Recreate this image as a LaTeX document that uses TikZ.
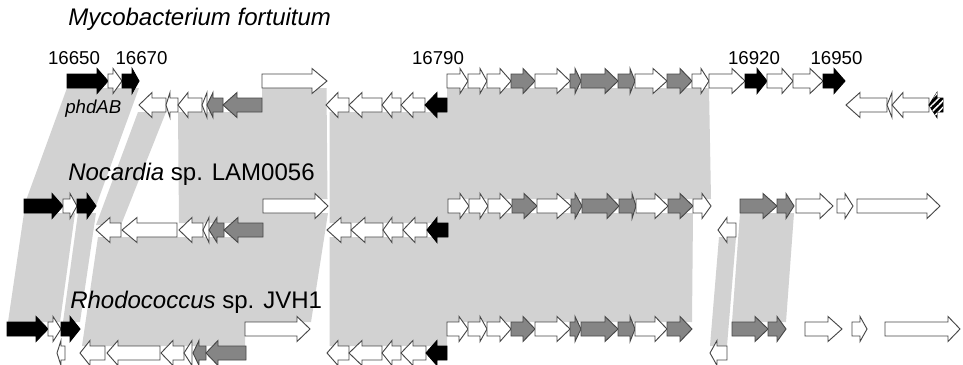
\documentclass[tikz,border=0pt]{standalone}
\usepackage{fontspec}
\setmainfont{Liberation Sans}
\usetikzlibrary{patterns.meta}
\definecolor{band}{HTML}{D2D2D2}
\definecolor{genegray}{HTML}{858585}
\definecolor{outl}{HTML}{474747}
\tikzset{
  bandfill/.style={fill=band, draw=none},
  wg/.style={draw=outl, line width=0.7pt, fill=white},
  gg/.style={draw=outl, line width=0.7pt, fill=genegray},
  bg/.style={draw=black, line width=0.7pt, fill=black},
  hg/.style={draw=black, line width=0.7pt, fill=black,
    postaction={pattern={Lines[angle=45,distance=3.5pt,line width=1.1pt]}, pattern color=white}},
  species/.style={font=\fontsize{18}{20}\selectfont, anchor=base west, inner sep=0pt},
  locus/.style={font=\fontsize{14}{16}\selectfont, anchor=base, inner sep=0pt}
}
% start x, head base x, tip x, centre y, style
\newcommand\gene[5]{\draw[#5] (#1,{#4-7}) -- (#2,{#4-7}) -- (#2,{#4-12.5}) -- (#3,#4) -- (#2,{#4+12.5}) -- (#2,{#4+7}) -- (#1,{#4+7}) -- cycle;}
\begin{document}
\begin{tikzpicture}[x=0.75pt,y=-0.75pt]
\useasboundingbox (0,0) rectangle (963,364);
\fill[white] (0,0) rectangle (963,364);

% ---------- homology bands ----------
% row 1 -> row 2
\fill[bandfill] (67,88) -- (139,88) -- (96,206) -- (24,206) -- cycle;
\fill[bandfill] (138,112) -- (166,112) -- (121,225) -- (96,225) -- cycle;
\fill[bandfill] (178,112) -- (262,112) -- (262,88) -- (326.5,88) -- (327.5,199) -- (263,199) -- (263,223) -- (179,223) -- cycle;
\fill[bandfill] (329.5,112) -- (447,112) -- (447,88) -- (709,88) -- (711,199) -- (448,199) -- (448,223) -- (329.5,223) -- cycle;
% row 2 -> row 3
\fill[bandfill] (24,213) -- (75,213) -- (60,322) -- (8,322) -- cycle;
\fill[bandfill] (78,213) -- (96,213) -- (80,322) -- (63,322) -- cycle;
\fill[bandfill] (98,237) -- (263,237) -- (263,213) -- (328,213) -- (311,322) -- (245,322) -- (245,346) -- (82,346) -- cycle;
\fill[bandfill] (329.5,237) -- (448,237) -- (448,213) -- (693,213) -- (692,322) -- (447,322) -- (447,346) -- (329.5,346) -- cycle;
\fill[bandfill] (719,237) -- (736,237) -- (727,346) -- (710,346) -- cycle;
\fill[bandfill] (740,213) -- (794,213) -- (786,322) -- (732,322) -- cycle;

% ---------- row 1: Mycobacterium fortuitum ----------
\gene{67}{97}{108}{81}{bg}
\gene{108}{113}{122}{81}{wg}
\gene{122}{132}{139}{81}{bg}
\gene{262}{312}{327}{81}{wg}
\gene{447}{460}{468}{81}{wg}
\gene{468}{480}{487}{81}{wg}
\gene{487}{500}{511}{81}{wg}
\gene{511}{523}{535}{81}{gg}
\gene{535}{557}{570}{81}{wg}
\gene{570}{575}{581}{81}{gg}
\gene{581}{605}{618}{81}{gg}
\gene{618}{630}{635}{81}{gg}
\gene{635}{653}{667}{81}{wg}
\gene{667}{680}{692}{81}{gg}
\gene{692}{701}{709}{81}{wg}
\gene{709}{732}{745}{81}{wg}
\gene{745}{757}{767}{81}{bg}
\gene{767}{782}{793}{81}{wg}
\gene{793}{810}{823}{81}{wg}
\gene{823}{834}{845}{81}{bg}
\gene{166}{152}{139}{105}{wg}
\gene{178}{170}{166}{105}{wg}
\gene{202}{188}{178}{105}{wg}
\gene{207}{207}{202}{105}{wg}
\gene{223}{213}{207}{105}{gg}
\gene{262}{237}{223}{105}{gg}
\gene{349}{338}{326}{105}{wg}
\gene{382}{362}{349}{105}{wg}
\gene{401}{392}{382}{105}{wg}
\gene{425}{413}{401}{105}{wg}
\gene{447}{437}{425}{105}{bg}
\gene{887}{860}{846}{105}{wg}
\gene{892}{892}{887}{105}{wg}
\gene{929}{903}{892}{105}{wg}
\gene{943}{937}{929}{105}{hg}

% ---------- row 2: Nocardia sp. LAM0056 ----------
\gene{24}{52}{63}{206}{bg}
\gene{63}{70}{77}{206}{wg}
\gene{77}{87}{96}{206}{bg}
\gene{263}{315}{328}{206}{wg}
\gene{448}{460}{469}{206}{wg}
\gene{469}{480}{488}{206}{wg}
\gene{488}{500}{512}{206}{wg}
\gene{512}{524}{537}{206}{gg}
\gene{537}{557}{571}{206}{wg}
\gene{571}{575}{582}{206}{gg}
\gene{582}{607}{619}{206}{gg}
\gene{619}{632}{636}{206}{gg}
\gene{636}{655}{668}{206}{wg}
\gene{668}{680}{693}{206}{gg}
\gene{693}{702}{711}{206}{wg}
\gene{740}{763}{777}{206}{gg}
\gene{777}{786}{794}{206}{gg}
\gene{796}{820}{833}{206}{wg}
\gene{837}{845}{853}{206}{wg}
\gene{857}{927}{940}{206}{wg}
\gene{121}{110}{96}{230}{wg}
\gene{177}{137}{122}{230}{wg}
\gene{203}{192}{179}{230}{wg}
\gene{209}{209}{203}{230}{wg}
\gene{224}{217}{209}{230}{gg}
\gene{263}{238}{224}{230}{gg}
\gene{351}{341}{327}{230}{wg}
\gene{383}{365}{351}{230}{wg}
\gene{403}{392}{383}{230}{wg}
\gene{427}{415}{403}{230}{wg}
\gene{448}{437}{427}{230}{bg}
\gene{736}{727}{718}{230}{wg}

% ---------- row 3: Rhodococcus sp. JVH1 ----------
\gene{7}{36}{48}{329}{bg}
\gene{48}{53}{61}{329}{wg}
\gene{61}{70}{80}{329}{bg}
\gene{245}{297}{310}{329}{wg}
\gene{447}{459}{468}{329}{wg}
\gene{468}{480}{487}{329}{wg}
\gene{487}{500}{511}{329}{wg}
\gene{511}{523}{535}{329}{gg}
\gene{535}{557}{570}{329}{wg}
\gene{570}{575}{581}{329}{gg}
\gene{581}{605}{618}{329}{gg}
\gene{618}{630}{635}{329}{gg}
\gene{635}{655}{667}{329}{wg}
\gene{667}{680}{692}{329}{gg}
\gene{732}{755}{768}{329}{gg}
\gene{768}{777}{786}{329}{gg}
\gene{805}{828}{842}{329}{wg}
\gene{852}{860}{867}{329}{wg}
\gene{885}{948}{960}{329}{wg}
\gene{65}{61}{57}{353}{wg}
\gene{105}{90}{80}{353}{wg}
\gene{160}{118}{107}{353}{wg}
\gene{184}{173}{161}{353}{wg}
\gene{192}{192}{184}{353}{wg}
\gene{206}{199}{193}{353}{gg}
\gene{246}{218}{206}{353}{gg}
\gene{349}{338}{327}{353}{wg}
\gene{382}{362}{349}{353}{wg}
\gene{401}{392}{382}{353}{wg}
\gene{426}{413}{401}{353}{wg}
\gene{447}{437}{426}{353}{bg}
\gene{727}{717}{710}{353}{wg}

% ---------- labels ----------
\node[species] (myco) at (68,26) {\itshape Mycobacterium fortuitum};
\node[species] (noca) at (68,180) {\textit{Nocardia} sp. LAM0056};
\node[species] (rhodo) at (70,308) {\textit{Rhodococcus} sp. JVH1};
\node[locus] (l16650) at (74,64) {16650};
\node[locus] (l16670) at (141.5,64) {16670};
\node[locus] (l16790) at (438,64) {16790};
\node[locus] (l16920) at (754,64) {16920};
\node[locus] (l16950) at (836.5,64) {16950};
\node[locus, anchor=base west] (phd) at (65,113) {\itshape phdAB};
\end{tikzpicture}
\end{document}
